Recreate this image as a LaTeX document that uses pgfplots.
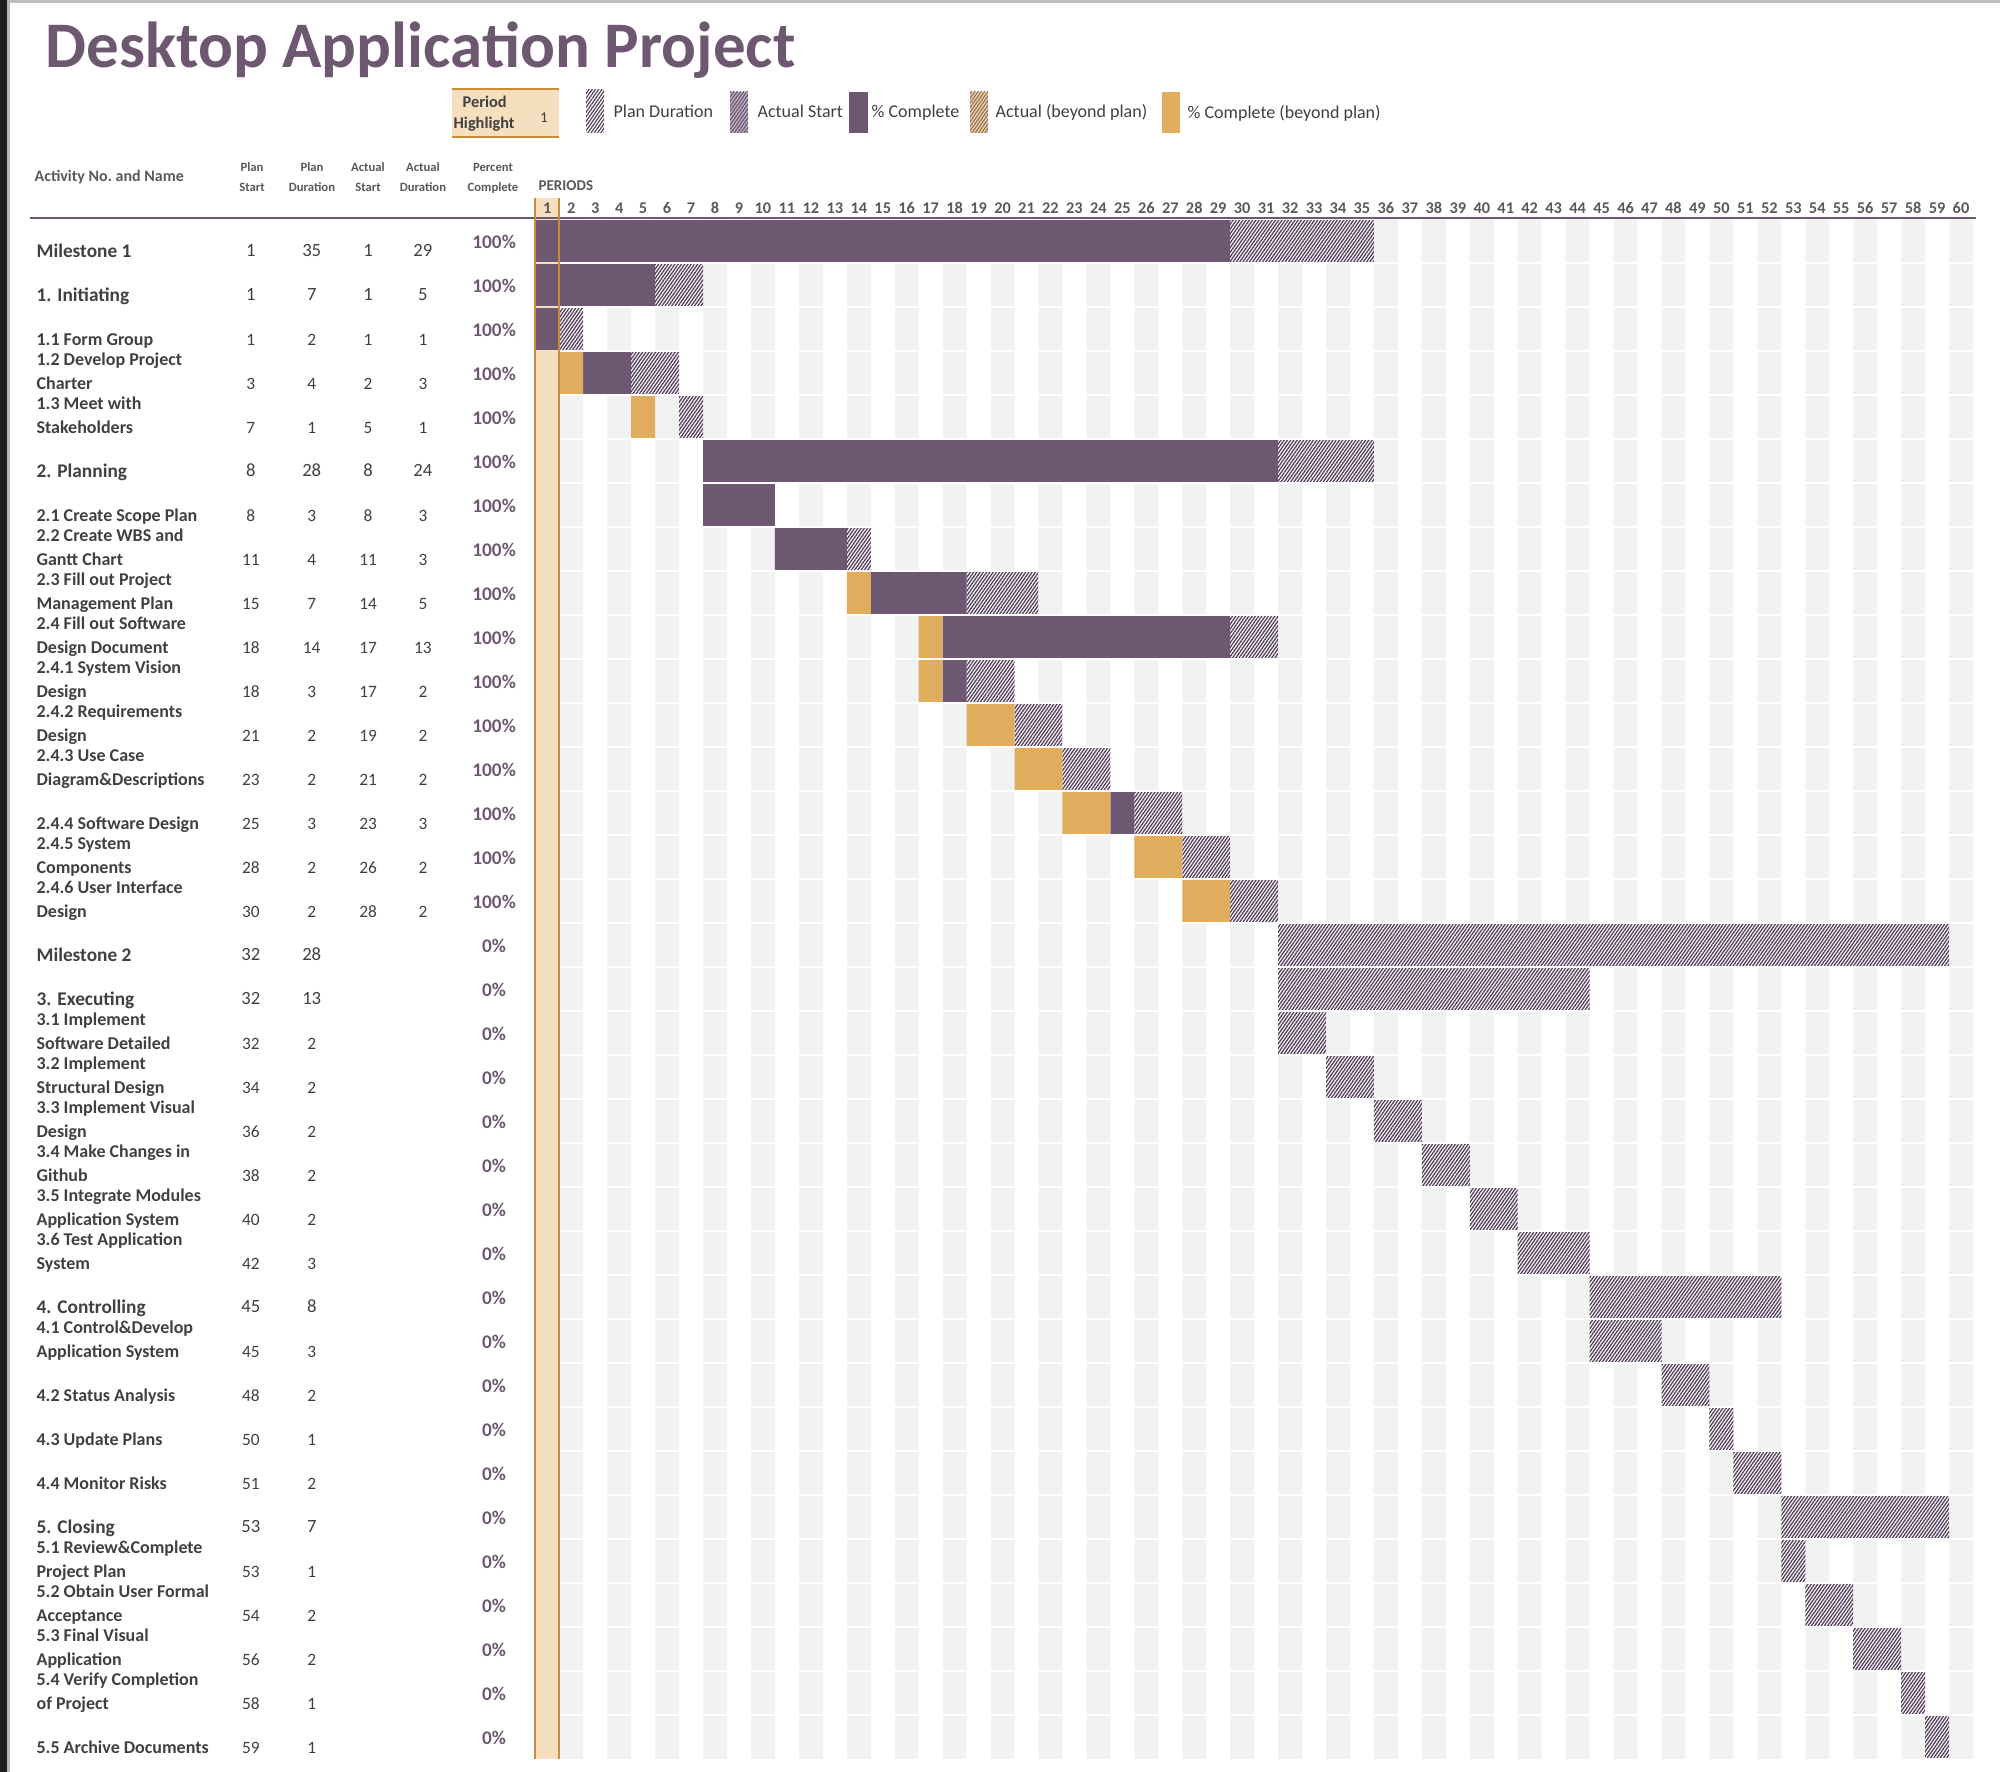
\documentclass[border=0pt]{standalone}
\usepackage{fontspec}
\setmainfont{Carlito}
\usepackage{pgfplots}
\pgfplotsset{compat=1.18}
\usepackage{pgfplotstable}
\usetikzlibrary{patterns.meta}

\definecolor{pur}{RGB}{110,88,113}
\definecolor{ora}{RGB}{224,172,94}
\definecolor{hl}{RGB}{245,223,190}
\definecolor{hlb}{RGB}{203,140,55}
\definecolor{stripe}{RGB}{242,242,242}
\definecolor{tgray}{RGB}{64,64,64}
\definecolor{hdr}{RGB}{89,89,89}
\definecolor{hatchc}{RGB}{85,64,92}
\definecolor{lav}{RGB}{192,178,197}
\definecolor{peach}{RGB}{241,210,172}
\definecolor{brownl}{RGB}{150,118,88}

\newcommand\fphase{\fontsize{5.8pt}{6pt}\selectfont\bfseries}
\newcommand\fsub{\fontsize{5.4pt}{6pt}\selectfont\bfseries}
\newcommand\fnumP{\fontsize{5.6pt}{6pt}\selectfont}
\newcommand\fnumS{\fontsize{5.2pt}{6pt}\selectfont}
\newcommand\fpct{\fontsize{5.8pt}{6pt}\selectfont\bfseries}

% Gantt segments per row: offset, orange (% complete beyond plan), purple (% complete), gap, hatched (plan)
\pgfplotstableread[col sep=comma]{
y,off,ora,pur,gap,hat
0.5,0.5,0,29,0,6
1.5,0.5,0,5,0,2
2.5,0.5,0,1,0,1
3.5,1.5,1,2,0,2
4.5,4.5,1,0,1,1
5.5,7.5,0,24,0,4
6.5,7.5,0,3,0,0
7.5,10.5,0,3,0,1
8.5,13.5,1,4,0,3
9.5,16.5,1,12,0,2
10.5,16.5,1,1,0,2
11.5,18.5,2,0,0,2
12.5,20.5,2,0,0,2
13.5,22.5,2,1,0,2
14.5,25.5,2,0,0,2
15.5,27.5,2,0,0,2
16.5,31.5,0,0,0,28
17.5,31.5,0,0,0,13
18.5,31.5,0,0,0,2
19.5,33.5,0,0,0,2
20.5,35.5,0,0,0,2
21.5,37.5,0,0,0,2
22.5,39.5,0,0,0,2
23.5,41.5,0,0,0,3
24.5,44.5,0,0,0,8
25.5,44.5,0,0,0,3
26.5,47.5,0,0,0,2
27.5,49.5,0,0,0,1
28.5,50.5,0,0,0,2
29.5,52.5,0,0,0,7
30.5,52.5,0,0,0,1
31.5,53.5,0,0,0,2
32.5,55.5,0,0,0,2
33.5,57.5,0,0,0,1
34.5,58.5,0,0,0,1
}\bartab

\pgfplotstableread[col sep=comma]{
y,name,ps,pd,as,ad,pct
0.5,Milestone 1,1,35,1,29,100\%
1.5,1. Initiating,1,7,1,5,100\%
5.5,2. Planning,8,28,8,24,100\%
16.5,Milestone 2,32,28,,,0\%
17.5,3. Executing,32,13,,,0\%
24.5,4. Controlling,45,8,,,0\%
29.5,5. Closing,53,7,,,0\%
}\phasetab

\pgfplotstableread[col sep=comma]{
y,top,bot,ps,pd,as,ad,pct
2.5,,1.1 Form Group,1,2,1,1,100\%
3.5,1.2 Develop Project,Charter,3,4,2,3,100\%
4.5,1.3 Meet with,Stakeholders,7,1,5,1,100\%
6.5,,2.1 Create Scope Plan,8,3,8,3,100\%
7.5,2.2 Create WBS and,Gantt Chart,11,4,11,3,100\%
8.5,2.3 Fill out Project,Management Plan,15,7,14,5,100\%
9.5,2.4 Fill out Software,Design Document,18,14,17,13,100\%
10.5,2.4.1 System Vision,Design,18,3,17,2,100\%
11.5,2.4.2 Requirements,Design,21,2,19,2,100\%
12.5,2.4.3 Use Case,Diagram\&Descriptions,23,2,21,2,100\%
13.5,,2.4.4 Software Design,25,3,23,3,100\%
14.5,2.4.5 System,Components,28,2,26,2,100\%
15.5,2.4.6 User Interface,Design,30,2,28,2,100\%
18.5,3.1 Implement,Software Detailed,32,2,,,0\%
19.5,3.2 Implement,Structural Design,34,2,,,0\%
20.5,3.3 Implement Visual,Design,36,2,,,0\%
21.5,3.4 Make Changes in,Github,38,2,,,0\%
22.5,3.5 Integrate Modules,Application System,40,2,,,0\%
23.5,3.6 Test Application,System,42,3,,,0\%
25.5,4.1 Control\&Develop,Application System,45,3,,,0\%
26.5,,4.2 Status Analysis,48,2,,,0\%
27.5,,4.3 Update Plans,50,1,,,0\%
28.5,,4.4 Monitor Risks,51,2,,,0\%
30.5,5.1 Review\&Complete,Project Plan,53,1,,,0\%
31.5,5.2 Obtain User Formal,Acceptance,54,2,,,0\%
32.5,5.3 Final Visual,Application,56,2,,,0\%
33.5,5.4 Verify Completion,of Project,58,1,,,0\%
34.5,,5.5 Archive Documents,59,1,,,0\%
}\subtab

\pgfplotsset{
  ganttbase/.style={
    at={(160.59pt,-65.67pt)}, anchor=north west,
    scale only axis, width=431.31pt, height=462pt,
    xmin=0.5, xmax=60.5, ymin=0, ymax=35, y dir=reverse,
    clip=false, axis line style={draw=none}, major tick length=0pt,
    xtick=\empty, ytick=\empty,
  },
  lbl/.style={draw=none, mark=none, nodes near coords, point meta=explicit symbolic,
    every node near coord/.append style={inner sep=0pt, #1}},
}

\begin{document}
\begin{tikzpicture}
\useasboundingbox (0,0) rectangle (600pt,-531.6pt);

\begin{scope}[x=0.3pt,y=-0.3pt]
  % window edge
  \fill[black!88] (0,0) rectangle (7,1772);
  \fill[black!28] (7,0) rectangle (9.5,1772);
  \fill[black!25] (9.5,0) rectangle (2000,3);
  % title
  \node[anchor=base west, inner sep=0pt, font=\fontsize{19.5pt}{20pt}\selectfont\bfseries, text=pur]
    at (45,68) {Desktop Application Project};
  % legend
  \fill[hl] (452,89) rectangle (559,137);
  \draw[hlb, line width=0.75pt] (452,89) -- (559,89) (452,137) -- (559,137);
  \node[anchor=base west, inner sep=0pt, font=\fontsize{4.9pt}{5pt}\selectfont\bfseries, text=tgray] at (462,108) {Period};
  \node[anchor=base west, inner sep=0pt, font=\fontsize{4.9pt}{5pt}\selectfont\bfseries, text=tgray] at (453,129) {Highlight};
  \node[anchor=base, inner sep=0pt, font=\fontsize{4.5pt}{5pt}\selectfont, text=tgray] at (544,123) {1};
  \fill[white] (586,90) rectangle (604,133);
  \fill[pattern={Lines[angle=55,distance=0.8pt,line width=0.36pt]}, pattern color=hatchc] (586,90) rectangle (604,133);
  \fill[lav] (730,92) rectangle (748,133);
  \fill[pattern={Lines[angle=55,distance=0.8pt,line width=0.36pt]}, pattern color=pur] (730,92) rectangle (748,133);
  \fill[pur] (849,92) rectangle (868,133);
  \fill[peach] (970,92) rectangle (988,133);
  \fill[pattern={Lines[angle=55,distance=0.8pt,line width=0.36pt]}, pattern color=brownl] (970,92) rectangle (988,133);
  \fill[ora] (1162,92) rectangle (1180,133);
  \begin{scope}[every node/.style={anchor=base west, inner sep=0pt, font=\fontsize{5.4pt}{6pt}\selectfont, text=tgray}]
    \node at (613,118) {Plan Duration};
    \node at (757,118) {Actual Start};
    \node at (871,118) {\% Complete};
    \node at (995,118) {Actual (beyond plan)};
    \node at (1187,119) {\% Complete (beyond plan)};
  \end{scope}
  % column headers
  \node[anchor=base west, inner sep=0pt, font=\fontsize{4.8pt}{5pt}\selectfont\bfseries, text=hdr] at (34,182) {Activity No.\ and Name};
  \begin{scope}[every node/.style={anchor=base, inner sep=0pt, font=\fontsize{3.8pt}{4pt}\selectfont\bfseries, text=hdr}]
    \node at (252,172) {Plan};    \node at (252,192) {Start};
    \node at (312,172) {Plan};    \node at (312,192) {Duration};
    \node at (368,172) {Actual};  \node at (368,192) {Start};
    \node at (423,172) {Actual};  \node at (423,192) {Duration};
    \node at (493,172) {Percent}; \node at (493,192) {Complete};
  \end{scope}
  \node[anchor=base west, inner sep=0pt, font=\fontsize{4.5pt}{5pt}\selectfont\bfseries, text=hdr] at (538,191) {PERIODS};
\end{scope}

% ---- background: stripes, row gaps, highlighted period
\begin{axis}[ganttbase]
\addplot[ybar, bar width=1, fill=stripe, draw=none] coordinates {
(2,35) (4,35) (6,35) (8,35) (10,35) (12,35) (14,35) (16,35) (18,35) (20,35)
(22,35) (24,35) (26,35) (28,35) (30,35) (32,35) (34,35) (36,35) (38,35) (40,35)
(42,35) (44,35) (46,35) (48,35) (50,35) (52,35) (54,35) (56,35) (58,35) (60,35)};
\pgfplotsinvokeforeach{1,...,34}{
  \addplot[white, line width=0.69pt] coordinates {(1.5,#1) (60.5,#1)};
}
\addplot[fill=hl, draw=none] coordinates {(0.5,-0.48) (1.5,-0.48) (1.5,35) (0.5,35)};
\end{axis}

% ---- Gantt bars
\begin{axis}[ganttbase, xbar stacked, bar width=0.948]
\addplot[draw=none, fill=none] table[x=off, y=y] {\bartab};
\addplot[draw=none, fill=ora] table[x=ora, y=y] {\bartab};
\addplot[draw=none, fill=pur] table[x=pur, y=y] {\bartab};
\addplot[draw=none, fill=none] table[x=gap, y=y] {\bartab};
\addplot[draw=none, preaction={fill=white},
  pattern={Lines[angle=55,distance=0.8pt,line width=0.4pt]}, pattern color=hatchc]
  table[x=hat, y=y] {\bartab};
\end{axis}

% ---- overlay: header line, highlight borders, texts
\begin{axis}[ganttbase]
\addplot[pur, line width=0.6pt] coordinates {(-20.59,-0.02) (60.62,-0.02)};
\addplot[hlb, line width=0.6pt] coordinates {(0.5,-0.48) (0.5,35)};
\addplot[hlb, line width=0.6pt] coordinates {(1.5,-0.48) (1.5,35)};
% period numbers
\addplot[lbl={anchor=base, yshift=1.77pt, font=\fontsize{4.9pt}{5pt}\selectfont\bfseries, text=hdr}] coordinates {
(1,0) [1] (2,0) [2] (3,0) [3] (4,0) [4] (5,0) [5] (6,0) [6] (7,0) [7] (8,0) [8] (9,0) [9] (10,0) [10]
(11,0) [11] (12,0) [12] (13,0) [13] (14,0) [14] (15,0) [15] (16,0) [16] (17,0) [17] (18,0) [18] (19,0) [19] (20,0) [20]
(21,0) [21] (22,0) [22] (23,0) [23] (24,0) [24] (25,0) [25] (26,0) [26] (27,0) [27] (28,0) [28] (29,0) [29] (30,0) [30]
(31,0) [31] (32,0) [32] (33,0) [33] (34,0) [34] (35,0) [35] (36,0) [36] (37,0) [37] (38,0) [38] (39,0) [39] (40,0) [40]
(41,0) [41] (42,0) [42] (43,0) [43] (44,0) [44] (45,0) [45] (46,0) [46] (47,0) [47] (48,0) [48] (49,0) [49] (50,0) [50]
(51,0) [51] (52,0) [52] (53,0) [53] (54,0) [54] (55,0) [55] (56,0) [56] (57,0) [57] (58,0) [58] (59,0) [59] (60,0) [60]};
% phase rows
\addplot[lbl={anchor=base west, yshift=-4.83pt, font=\fphase, text=tgray}] table[x expr=-20.34, y=y, meta=name] {\phasetab};
\addplot[lbl={anchor=base, yshift=-4.77pt, font=\fnumP, text=tgray}] table[x expr=-11.37, y=y, meta=ps] {\phasetab};
\addplot[lbl={anchor=base, yshift=-4.77pt, font=\fnumP, text=tgray}] table[x expr=-8.83, y=y, meta=pd] {\phasetab};
\addplot[lbl={anchor=base, yshift=-4.77pt, font=\fnumP, text=tgray}] table[x expr=-6.48, y=y, meta=as] {\phasetab};
\addplot[lbl={anchor=base, yshift=-4.77pt, font=\fnumP, text=tgray}] table[x expr=-4.19, y=y, meta=ad] {\phasetab};
\addplot[lbl={anchor=base, yshift=-2.28pt, font=\fpct, text=pur}] table[x expr=-1.22, y=y, meta=pct] {\phasetab};
% task rows
\addplot[lbl={anchor=base west, yshift=2.16pt, font=\fsub, text=tgray}] table[x expr=-20.34, y=y, meta=top] {\subtab};
\addplot[lbl={anchor=base west, yshift=-5.04pt, font=\fsub, text=tgray}] table[x expr=-20.34, y=y, meta=bot] {\subtab};
\addplot[lbl={anchor=base, yshift=-4.95pt, font=\fnumS, text=tgray}] table[x expr=-11.37, y=y, meta=ps] {\subtab};
\addplot[lbl={anchor=base, yshift=-4.95pt, font=\fnumS, text=tgray}] table[x expr=-8.83, y=y, meta=pd] {\subtab};
\addplot[lbl={anchor=base, yshift=-4.95pt, font=\fnumS, text=tgray}] table[x expr=-6.48, y=y, meta=as] {\subtab};
\addplot[lbl={anchor=base, yshift=-4.95pt, font=\fnumS, text=tgray}] table[x expr=-4.19, y=y, meta=ad] {\subtab};
\addplot[lbl={anchor=base, yshift=-2.28pt, font=\fpct, text=pur}] table[x expr=-1.22, y=y, meta=pct] {\subtab};
\end{axis}
\end{tikzpicture}
\end{document}
